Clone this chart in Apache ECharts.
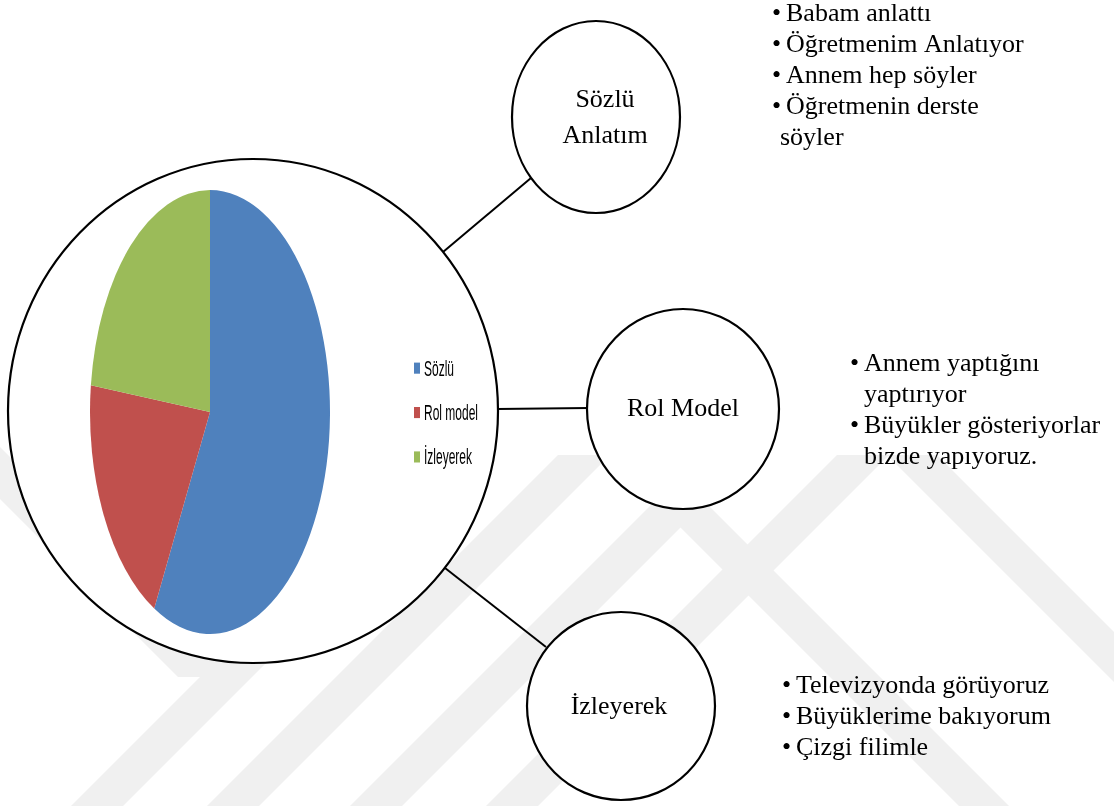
<!DOCTYPE html>
<html>
<head>
<meta charset="utf-8">
<script src="https://cdn.jsdelivr.net/npm/echarts/dist/echarts.min.js"></script>
<style>
  body { margin: 0; background: #fff; }
  #bg { position: absolute; left: 0; top: 0; width: 1114px; height: 806px; }
  #pie { position: absolute; left: 0; top: 0; width: 520px; height: 436px; transform-origin: 0 0; }
</style>
</head>
<body>
<div id="bg"></div>
<div id="pie"></div>
<script>
// pie data (Sözlü / Rol model / İzleyerek)
const categories = ['Sözlü', 'Rol model', 'İzleyerek'];
const counts = [15, 5, 6];
const sliceColors = ['#4F81BD', '#C0504D', '#9BBB59'];

// node labels and the notes beside them
const nodeLabels = ['Sözlü\nAnlatım', 'Rol Model', 'İzleyerek'];
const sozluNotes = ['Babam anlattı', 'Öğretmenim Anlatıyor', 'Annem hep söyler', 'Öğretmenin derste\nsöyler'];
const rolNotes = ['Annem yaptığını\nyaptırıyor', 'Büyükler gösteriyorlar\nbizde yapıyoruz.'];
const izleNotes = ['Televizyonda görüyoruz', 'Büyüklerime bakıyorum', 'Çizgi filimle'];

const STRETCH = 1.85;   // the pie in the picture is squeezed into a tall ellipse
const SERIF = '"Times New Roman", "Liberation Serif", serif';
const LH = 31;

// faint watermark stripes behind everything
function wmPoly(points) {
  return { type: 'polygon', silent: true, shape: { points: points }, style: { fill: '#f0f0f0' } };
}
let watermark = [];
[71, 207, 350, 486].forEach(function (b) {
  watermark.push(wmPoly([[b, 806], [b + 52, 806], [b + 52 + 351, 455], [b + 351, 455]]));
});
[608, 887].forEach(function (t) {
  watermark.push(wmPoly([[t, 455], [t + 50, 455], [t + 50 + 351, 806], [t + 351, 806]]));
});
watermark.push(wmPoly([[0, 447], [230, 677], [178, 677], [0, 499]]));

function ring(cx, cy, rx, ry) {
  return { type: 'ellipse', shape: { cx: cx, cy: cy, rx: rx, ry: ry },
    style: { fill: '#fff', stroke: '#000', lineWidth: 2.2 } };
}
function link(x1, y1, x2, y2) {
  return { type: 'line', shape: { x1: x1, y1: y1, x2: x2, y2: y2 },
    style: { stroke: '#000', lineWidth: 2 } };
}
function label(text, x, y) {
  return { type: 'text', style: { text: text, x: x, y: y, font: '26px ' + SERIF, fill: '#000',
    align: 'center', verticalAlign: 'middle', lineHeight: 36 } };
}
function notes(items, textX, firstY, wrapX) {
  let out = [];
  let y = firstY - LH / 2;
  items.forEach(function (it) {
    let lines = it.split('\n');
    out.push({ type: 'text', style: { text: '•', x: textX - 14, y: y, font: '26px ' + SERIF,
      fill: '#000', verticalAlign: 'top', lineHeight: LH } });
    lines.forEach(function (ln, k) {
      out.push({ type: 'text', style: { text: ln, x: k === 0 ? textX : (wrapX || textX), y: y,
        font: '26px ' + SERIF, fill: '#000', verticalAlign: 'top', lineHeight: LH } });
      y += LH;
    });
  });
  return out;
}

const bg = echarts.init(document.getElementById('bg'), null, { renderer: 'canvas' });
bg.setOption({
  animation: false,
  graphic: watermark.concat([
    link(443, 252, 531, 178),
    link(497, 409, 589, 408),
    link(445, 568, 546, 647),
    ring(253, 411, 245, 252),
    ring(596, 117, 84, 96),
    ring(683, 409, 96, 100),
    ring(621, 706, 94, 94),
    label(nodeLabels[0], 605, 118),
    label(nodeLabels[1], 683, 409),
    label(nodeLabels[2], 619, 707)
  ]).concat(notes(sozluNotes, 786, 14, 780))
    .concat(notes(rolNotes, 864, 364))
    .concat(notes(izleNotes, 796, 686))
});

const pieDiv = document.getElementById('pie');
pieDiv.style.transform = 'scaleY(' + STRETCH + ')';
const pie = echarts.init(pieDiv, null, { renderer: 'svg' });
pie.setOption({
  animation: false,
  legend: {
    orient: 'vertical',
    left: 409,
    top: 188,
    itemWidth: 6,
    itemHeight: 6,
    itemGap: 12,
    icon: 'rect',
    selectedMode: false,
    textStyle: { fontFamily: 'Liberation Sans, Arial', fontSize: 12, color: '#000', padding: [0, 0, 0, -1] },
    data: categories
  },
  series: [{
    type: 'pie',
    center: [210, 412 / STRETCH],
    radius: 120,
    startAngle: 90,
    clockwise: true,
    silent: true,
    label: { show: false },
    labelLine: { show: false },
    itemStyle: { borderWidth: 0 },
    data: categories.map(function (n, i) {
      return { name: n, value: counts[i], itemStyle: { color: sliceColors[i] } };
    })
  }]
});
</script>
</body>
</html>
